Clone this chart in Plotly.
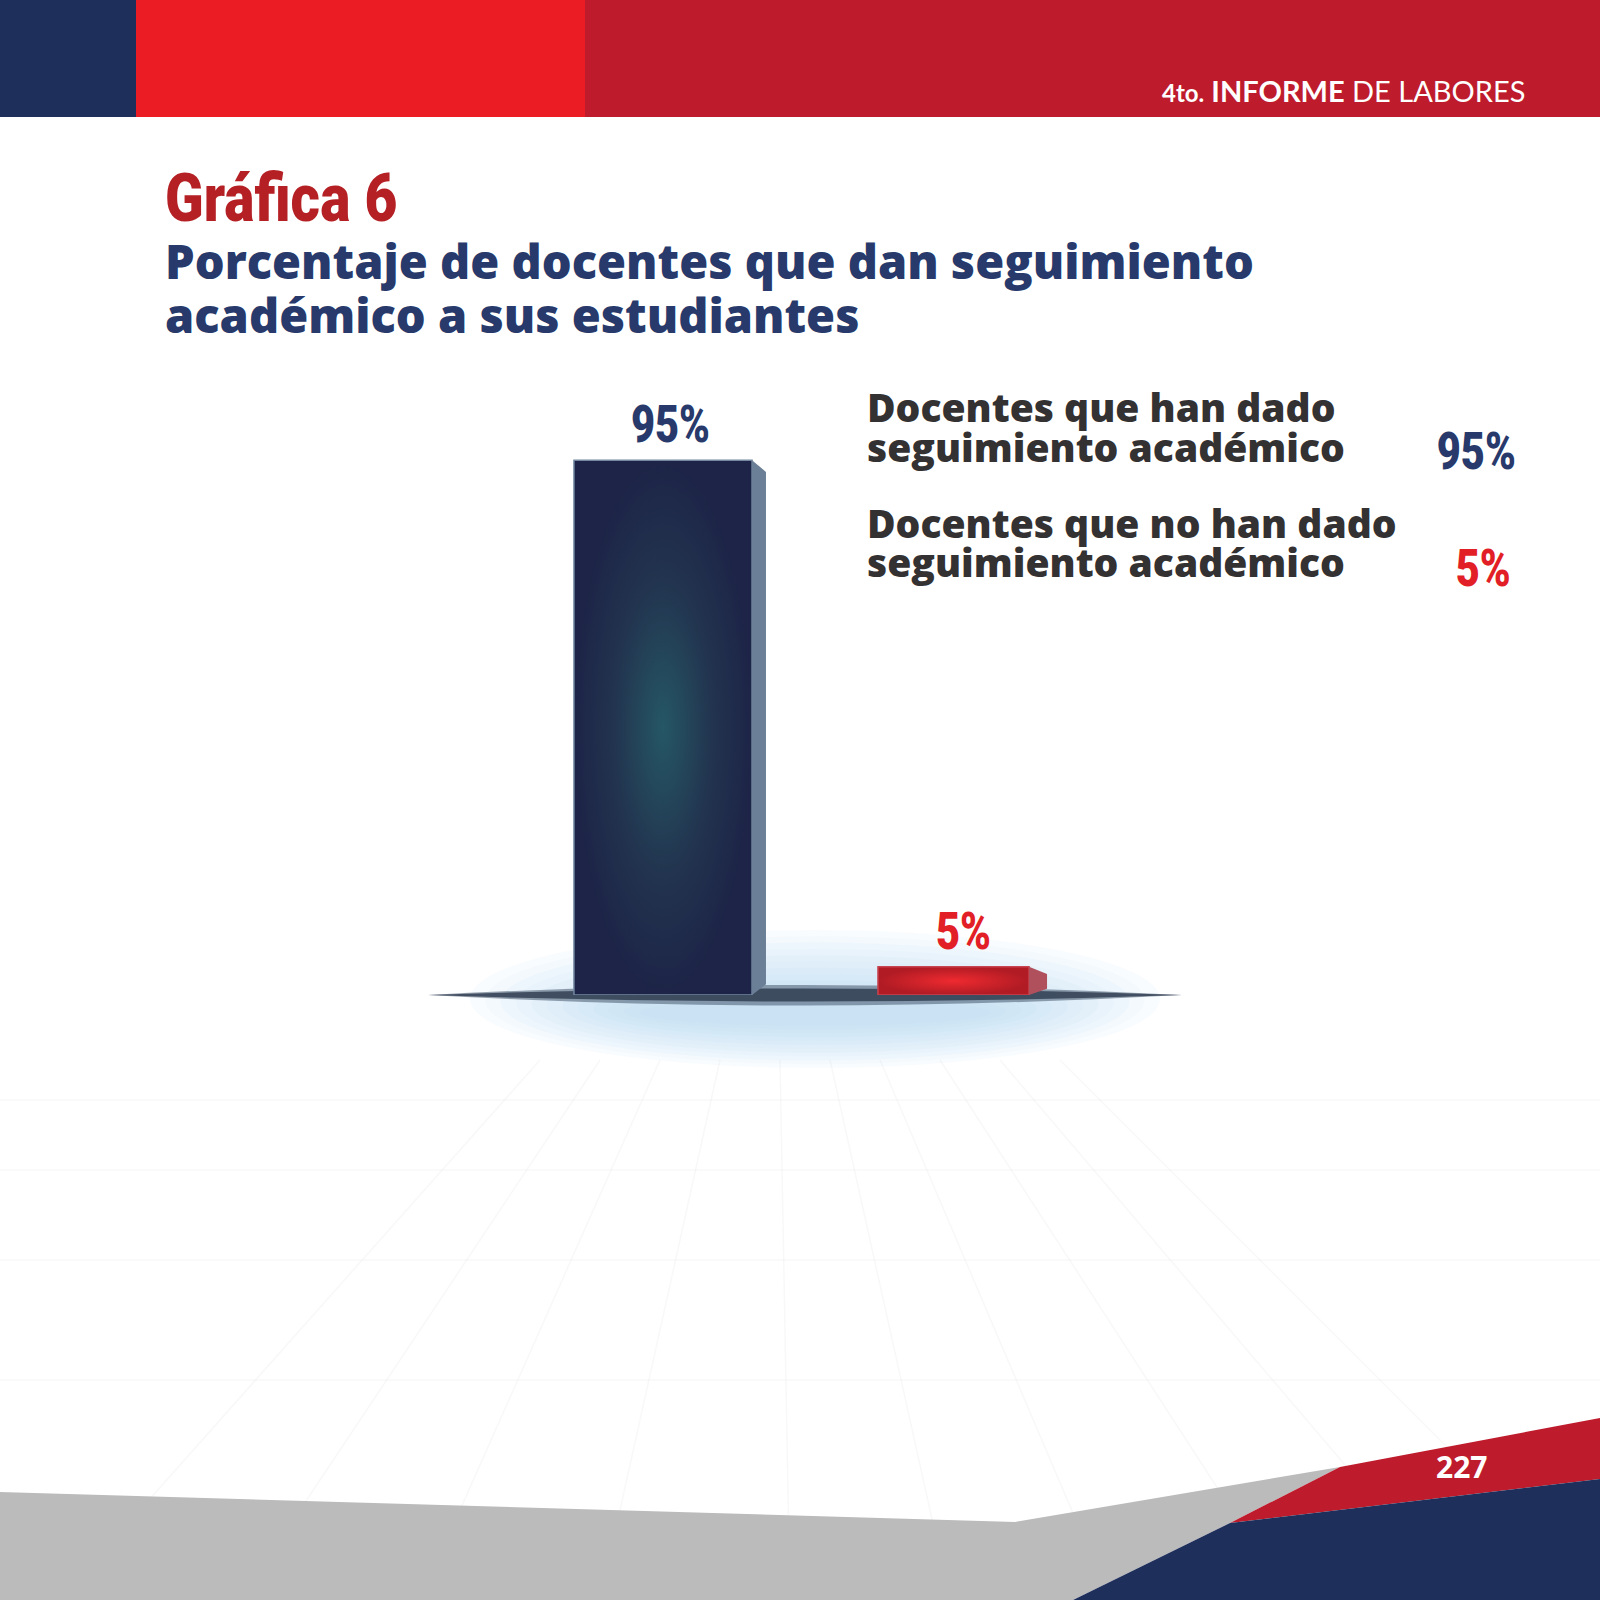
import plotly.graph_objects as go

# data
categorias = ["Docentes que han dado seguimiento académico",
              "Docentes que no han dado seguimiento académico"]
porcentajes = [95, 5]
etiquetas = ["95%", "5%"]
titulo = "Gráfica 6"
subtitulo = ["Porcentaje de docentes que dan seguimiento", "académico a sus estudiantes"]
leyenda = [["Docentes que han dado", "seguimiento académico"],
           ["Docentes que no han dado", "seguimiento académico"]]

W, H = 1600, 1600
NAVY = "#1f2f5c"
RED = "#be1b2c"
RED_BRIGHT = "#ec1c24"
TXT_NAVY = "#283a6b"
TXT_RED = "#e21f26"
GRAY_TXT = "#333132"
COND = "Roboto, DejaVu Sans, sans-serif"   # squeezed in the page (see post_script)
HEAVY = "Open Sans, Lato, Noto Sans, sans-serif"


def px(x):
    return x / W


def py(y):
    return 1 - y / H


def path(points):
    s = "M " + " L ".join("%f,%f" % (px(a), py(b)) for a, b in points)
    return s + " Z"


xs = list(range(len(porcentajes)))
widths = [0.613, 0.52]
face_cols = ["#22304f", "#d4212a"]
grad_cols = [[[0, "#255766"], [0.55, "#22344f"], [1, "#1d2447"]], [[0, "#ef2a30"], [1, "#b01b24"]]]
edge_cols = ["#7388a0", "#c74450"]
side_cols = ["#6b7f96", "#b0505c"]
depth = [0.048, 0.062]
label_cols = [TXT_NAVY, TXT_RED]
label_dx = [7, 10]

fig = go.Figure()

fig.add_trace(go.Bar(x=xs, y=porcentajes, width=widths, marker=dict(color=face_cols, line=dict(width=0)),
                     hovertext=categorias, hoverinfo="text+y", showlegend=False))

# shading of the bar faces and the 3d side
for i, v in enumerate(porcentajes):
    l = xs[i] - widths[i] / 2
    r = xs[i] + widths[i] / 2
    fig.add_trace(go.Scatter(x=[l, r, r, l, l], y=[0, 0, v, v, 0], fill="toself",
                             fillgradient=dict(type="radial", colorscale=grad_cols[i]),
                             line=dict(color=edge_cols[i], width=1.5), mode="lines",
                             hoverinfo="skip", showlegend=False))
    d = depth[i]
    drop = min(2.1, v * 0.25)
    fig.add_trace(go.Scatter(x=[r, r + d, r + d, r, r], y=[v, v - drop, drop * 0.9, 0, v], fill="toself",
                             fillcolor=side_cols[i], line=dict(width=0), mode="lines",
                             hoverinfo="skip", showlegend=False))

shapes = []
# header band
shapes.append(dict(type="rect", xref="paper", yref="paper", x0=px(0), x1=px(137), y0=py(117), y1=py(0),
                   fillcolor=NAVY, line_width=0, layer="below"))
shapes.append(dict(type="rect", xref="paper", yref="paper", x0=px(136), x1=px(586), y0=py(117), y1=py(0),
                   fillcolor=RED_BRIGHT, line_width=0, layer="below"))
shapes.append(dict(type="rect", xref="paper", yref="paper", x0=px(585), x1=px(1600), y0=py(117), y1=py(0),
                   fillcolor=RED, line_width=0, layer="below"))

# faint floor grid
grid = "rgba(232,232,232,0.3)"
for a, b in [(540, 60), (600, 240), (660, 420), (720, 600), (780, 790), (830, 950),
             (880, 1110), (940, 1290), (1000, 1460), (1060, 1600)]:
    shapes.append(dict(type="line", xref="paper", yref="paper", x0=px(a), y0=py(1060), x1=px(b), y1=py(1600),
                       line=dict(color=grid, width=1.5), layer="below"))
for yy in [1100, 1170, 1260, 1380]:
    shapes.append(dict(type="line", xref="paper", yref="paper", x0=px(0), y0=py(yy), x1=px(1600), y1=py(yy),
                       line=dict(color=grid, width=1.5), layer="below"))

# glow under the bars
for k in range(12):
    g = k * 7
    shapes.append(dict(type="circle", xref="paper", yref="paper",
                       x0=px(470 + g * 2.2), x1=px(1160 - g * 2.2), y0=py(1068 - g * 0.55), y1=py(930 + g * 0.9),
                       fillcolor="rgba(175,208,234,0.07)", line_width=0, layer="below"))
# dark lens shadow
for (top, bot, col) in [(975, 1016, "rgba(70,88,110,0.55)"), (982, 1008, "rgba(45,58,78,0.8)")]:
    shapes.append(dict(type="path", xref="paper", yref="paper",
                       path="M %f,%f Q %f,%f %f,%f Q %f,%f %f,%f Z" % (px(428), py(995), px(800), py(top), px(1182), py(995),
                                                                        px(800), py(bot), px(428), py(995)),
                       fillcolor=col, line_width=0, layer="below"))

# bottom band
shapes.append(dict(type="path", xref="paper", yref="paper",
                   path=path([(0, 1492), (1015, 1522), (1340, 1467), (1230, 1523), (1073, 1600), (0, 1600)]),
                   fillcolor="#bcbbbc", line_width=0, layer="below"))
shapes.append(dict(type="path", xref="paper", yref="paper",
                   path=path([(1340, 1467), (1600, 1418), (1600, 1479), (1230, 1523)]),
                   fillcolor=RED, line_width=0, layer="below"))
shapes.append(dict(type="path", xref="paper", yref="paper",
                   path=path([(1230, 1523), (1600, 1479), (1600, 1600), (1073, 1600)]),
                   fillcolor=NAVY, line_width=0, layer="below"))

ann = []


def txt(t, x, y, size, color, family=HEAVY, weight=800, anchor="left", va="middle", tweak=""):
    ann.append(dict(text=t, x=px(x), y=py(y), xref="paper", yref="paper", xanchor=anchor, yanchor=va,
                    showarrow=False, name=tweak, align="left",
                    font=dict(size=size, color=color, family=family, weight=weight)))


txt("<b><span style='font-size:24px'>4to.</span> INFORME</b> DE LABORES", 1527, 90, 29, "white",
    family="Lato, Noto Sans, sans-serif", weight=400, anchor="right")
txt(titulo, 163, 198, 66, "#b52025", family=COND, weight=900, tweak="sx:0.86")
txt("<br>".join(subtitulo), 163, 227, 47, TXT_NAVY, va="top", tweak="lh:1.15")
txt("<br>".join(leyenda[0]), 865, 378, 39, GRAY_TXT, va="top", tweak="lh:1.02")
txt("<br>".join(leyenda[1]), 865, 494, 39, GRAY_TXT, va="top", tweak="lh:0.99")
txt(etiquetas[0], 1518, 452, 52, TXT_NAVY, family=COND, weight=900, anchor="right", tweak="sx:0.8")
txt(etiquetas[1], 1513, 568, 52, TXT_RED, family=COND, weight=900, anchor="right", tweak="sx:0.8")
txt("<b>227</b>", 1461, 1466, 30, "white", family="Open Sans, Lato, sans-serif", weight=700, anchor="center")

for i, v in enumerate(porcentajes):
    ann.append(dict(text=etiquetas[i], x=xs[i], y=v, xref="x", yref="y", name="sx:0.8",
                    xanchor="center", yanchor="bottom", yshift=3, xshift=label_dx[i], showarrow=False,
                    font=dict(size=52, color=label_cols[i], family=COND, weight=900)))

fig.update_layout(
    width=W, height=H, margin=dict(l=0, r=0, t=0, b=0),
    paper_bgcolor="white", plot_bgcolor="rgba(0,0,0,0)",
    shapes=shapes, annotations=ann, showlegend=False, bargap=0,
    xaxis=dict(domain=[517.75 / W, 1098.75 / W], range=[-0.5, 1.5], visible=False, fixedrange=True),
    yaxis=dict(domain=[py(995), py(432)], range=[0, 100], visible=False, fixedrange=True),
)

# no page margin, condensed big numbers and tighter line spacing
post = """
document.body.style.margin = '0';
var gd = document.getElementById('{plot_id}');
function tweak() {
  var anns = gd._fullLayout.annotations;
  gd.querySelectorAll('g.annotation').forEach(function (g) {
    var a = anns[+g.getAttribute('data-index')];
    if (!a || !a.name) return;
    var t = g.querySelector('text.annotation-text');
    a.name.split(';').forEach(function (p) {
      var kv = p.split(':'), v = parseFloat(kv[1]);
      if (kv[0] === 'lh') {
        t.querySelectorAll('tspan.line').forEach(function (s, n) {
          s.setAttribute('dy', (n * v) + 'em');
        });
      }
      if (kv[0] === 'sx') {
        var b = t.getBBox();
        var cx = a.xanchor === 'left' ? b.x : (a.xanchor === 'right' ? b.x + b.width : b.x + b.width / 2);
        t.setAttribute('transform', 'translate(' + cx + ',0) scale(' + v + ',1) translate(' + (-cx) + ',0)');
      }
    });
  });
}
tweak();
gd.on('plotly_afterplot', tweak);
"""

fig.write_html("out.html", post_script=post, config={"displayModeBar": False})
